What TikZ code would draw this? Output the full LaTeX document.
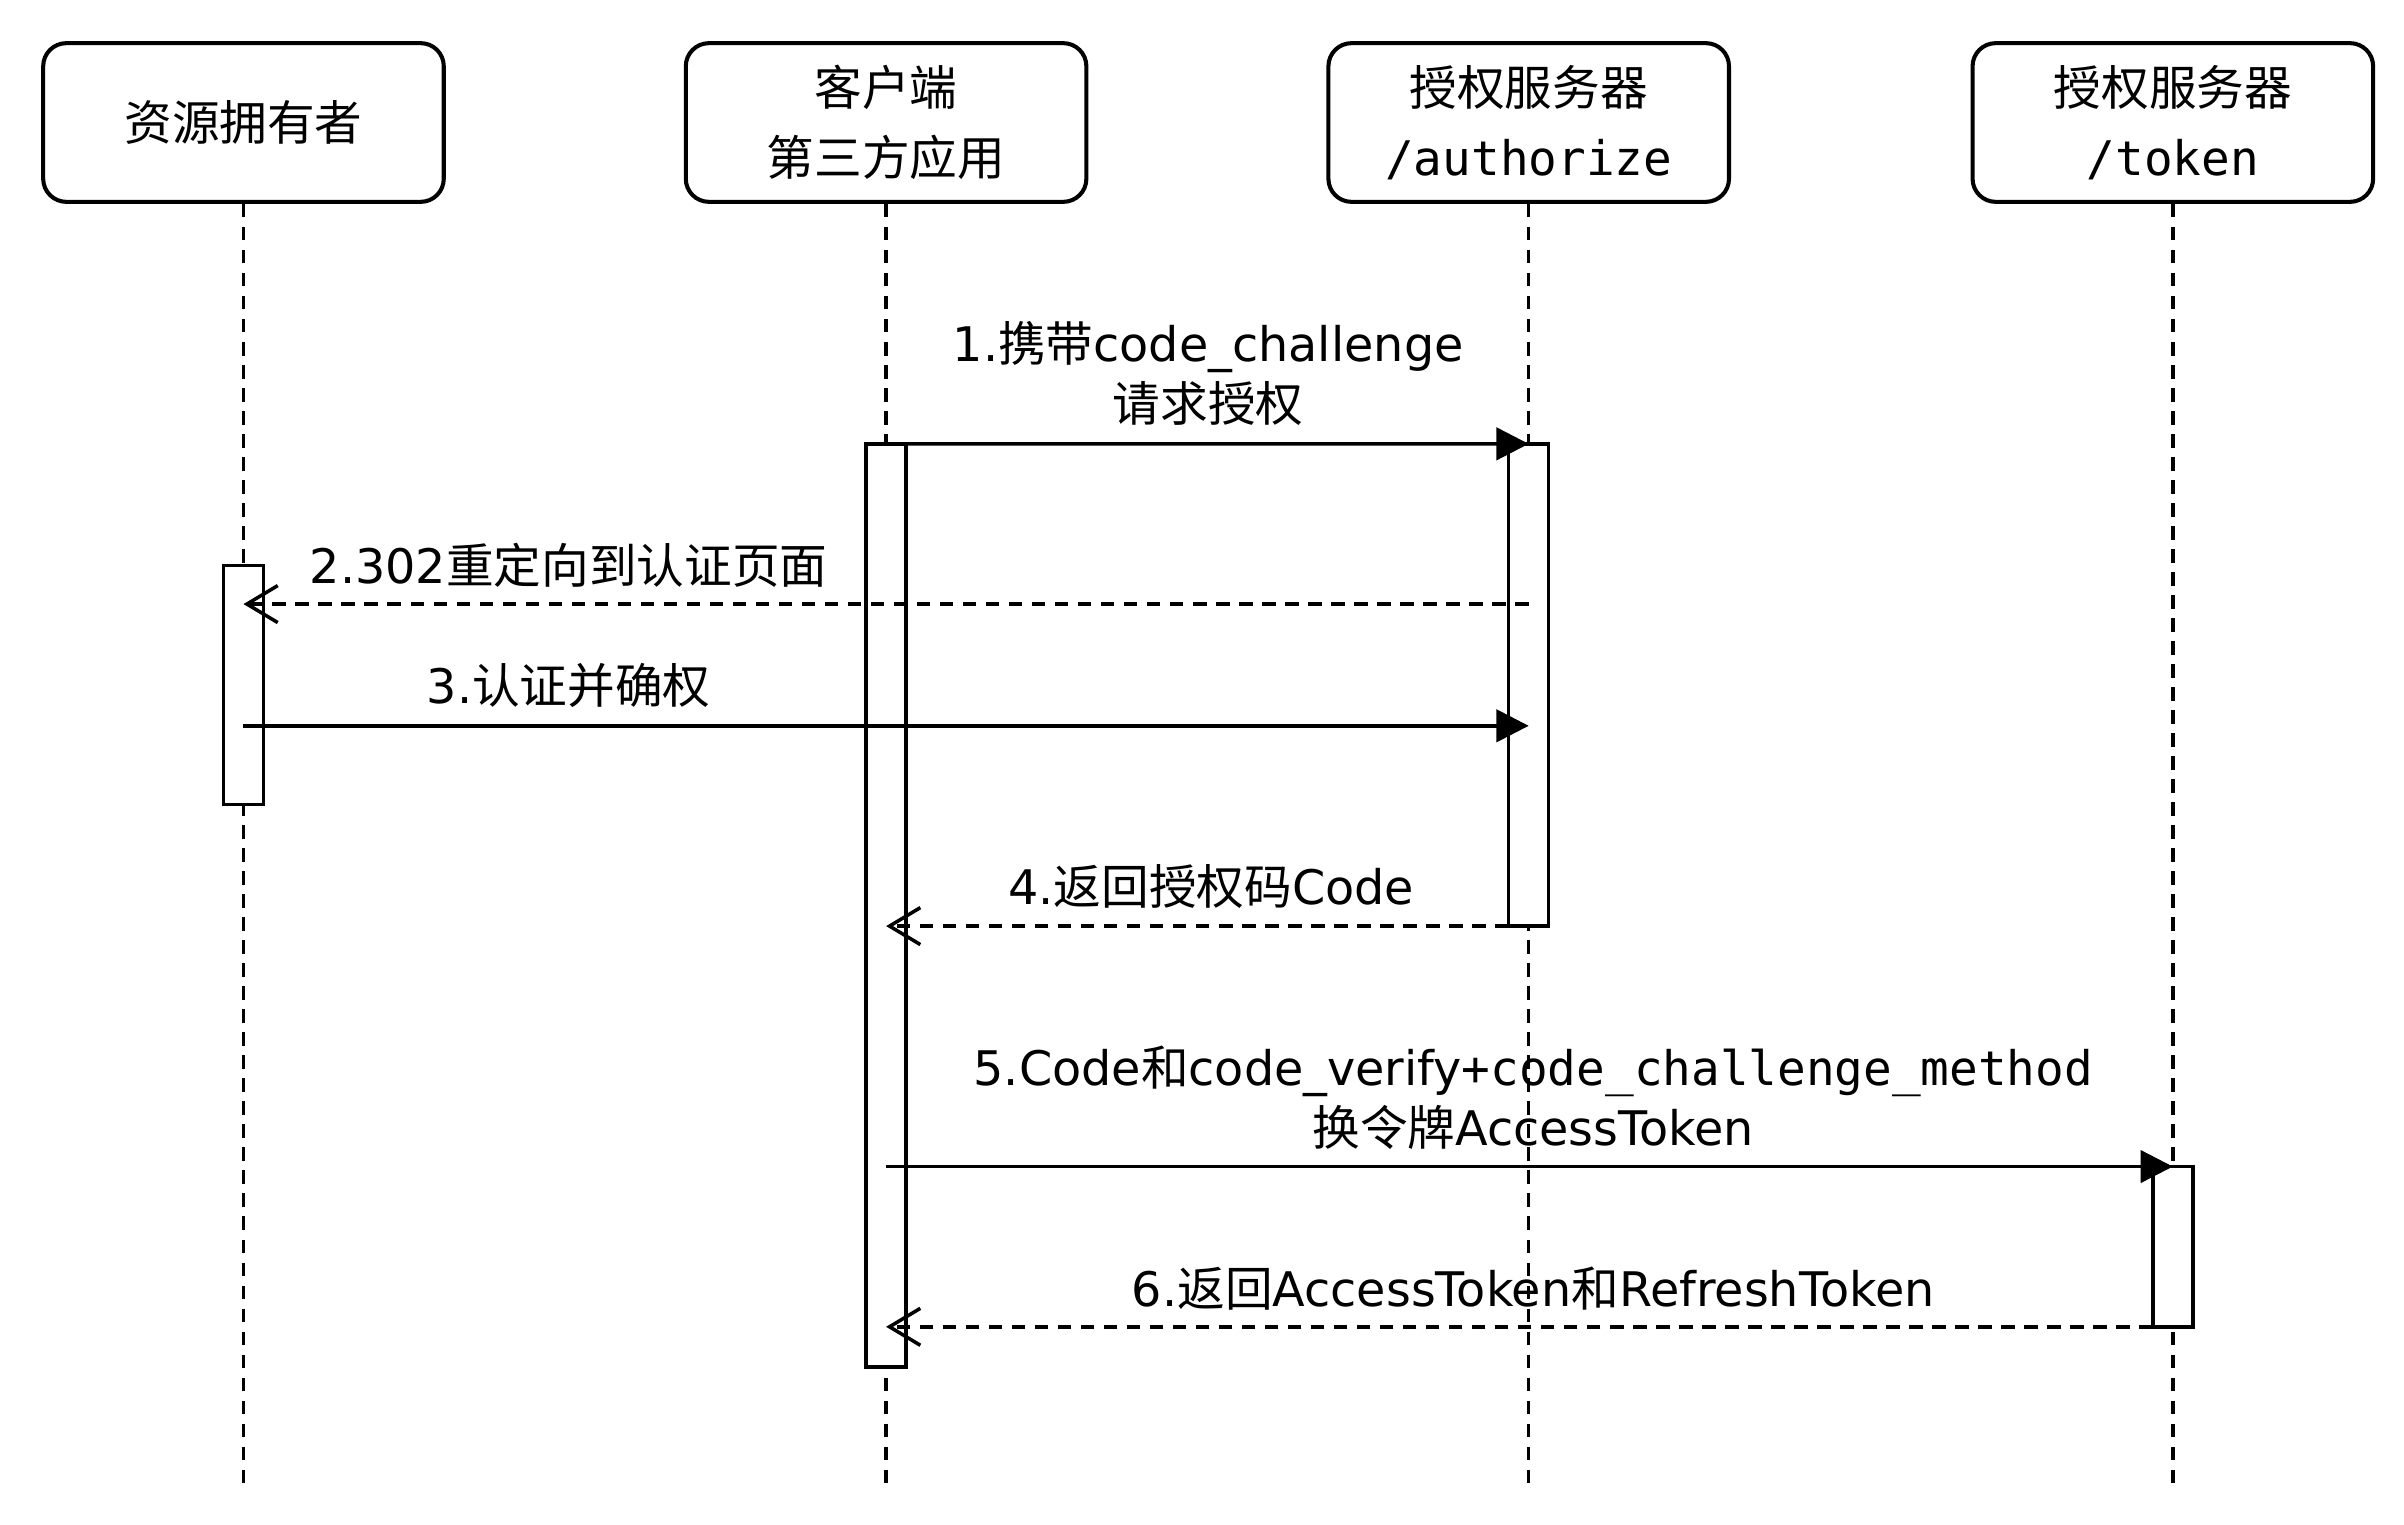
\documentclass[tikz,border=0pt]{standalone}
\usepackage{fontspec}
\setmainfont{DejaVu Sans}
\newfontfamily\cjk{Noto Sans CJK SC}
\newfontfamily\monofont{DejaVu Sans Mono}
\usetikzlibrary{arrows.meta}

\tikzset{
  actor/.style={draw, line width=1.5pt, rounded corners=0.3cm, minimum width=5.2cm, minimum height=2.06cm, align=center, font=\fontsize{17.6}{26}\selectfont},
  life/.style={line width=1.3pt, dash pattern=on 5pt off 3.5pt},
  act/.style={draw, fill=white, line width=1.3pt, minimum width=0.52cm, inner sep=0pt, outer sep=0pt},
  call/.style={line width=1.3pt, -{Triangle[length=0.42cm,width=0.42cm]}},
  back/.style={line width=1.3pt, dash pattern=on 5pt off 3.5pt, -{Straight Barb[length=0.4cm,width=0.48cm]}},
  lbl/.style={align=center, font=\fontsize{17.6}{22}\selectfont, inner sep=0pt}
}

\begin{document}
\begin{tikzpicture}[x=0.02cm,y=-0.02cm]
        \useasboundingbox (0,0) rectangle (1560,989);

        \node[actor] (RO) at (158,79.5) {\cjk 资源拥有者};
        \node[actor] (CL) at (575,79.5) {\cjk 客户端\\\cjk 第三方应用};
        \node[actor] (AZ) at (992,79.5) {\cjk 授权服务器\\{\monofont /authorize}};
        \node[actor] (TK) at (1410,79.5) {\cjk 授权服务器\\{\monofont /token}};

        \coordinate (bot) at (0,967);
        \coordinate (m2) at (0,392);
        \coordinate (m3) at (0,471);

        % lifelines
        \foreach \n in {RO,CL,AZ,TK}
          \draw[life] (\n.south) -- (\n.south |- bot);

        \node[act, minimum height=3.1cm] (aRO) at (158,444.5) {};
        \node[act, minimum height=11.98cm] (aCL) at (575,587.5) {};
        \node[act, minimum height=6.26cm] (aAZ) at (992,444.5) {};
        \node[act, minimum height=2.08cm] (aTK) at (1410,809) {};

        % messages
        \draw[call] (aCL.north) -- (aAZ.north);
        \draw[back] (AZ |- m2) -- (RO |- m2);
        \draw[call] (RO |- m3) -- (AZ |- m3);
        \draw[back] (aAZ.south west) -- (CL |- aAZ.south);
        \draw[call] (CL |- aTK.north) -- (aTK.north);
        \draw[back] (aTK.south west) -- (CL |- aTK.south);

        \node[lbl] (l1) at (784,242.5) {1.{\cjk 携带}code\_challenge\\{\cjk 请求授权}};
        \node[lbl] (l2) at (369,367) {2.302{\cjk 重定向到认证页面}};
        \node[lbl] (l3) at (369,445) {3.{\cjk 认证并确权}};
        \node[lbl] (l4) at (786,575) {4.{\cjk 返回授权码}Code};
        \node[lbl] (l5) at (995,712.5) {5.Code{\cjk 和}code\_verify{\monofont +code\_challenge\_method}\\{\cjk 换令牌}AccessToken};
        \node[lbl] (l6) at (995,836) {6.{\cjk 返回}AccessToken{\cjk 和}RefreshToken};
\end{tikzpicture}
\end{document}
